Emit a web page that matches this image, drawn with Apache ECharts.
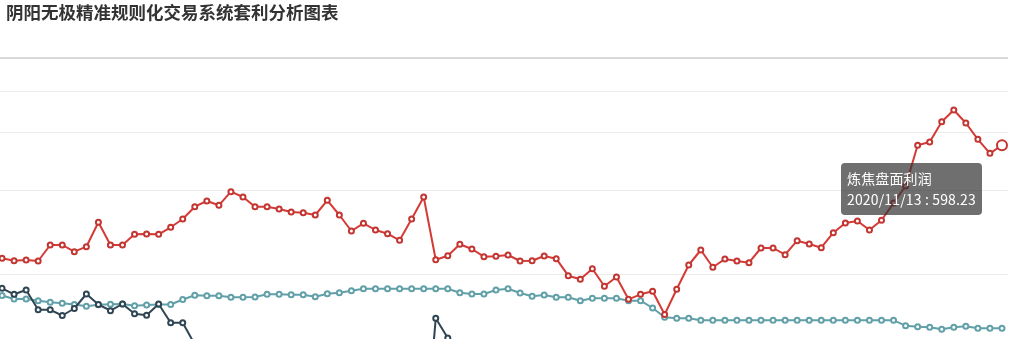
<!DOCTYPE html>
<html>
<head>
<meta charset="utf-8">
<script src="https://cdn.jsdelivr.net/npm/echarts@6/dist/echarts.min.js"></script>
<style>
html,body{margin:0;padding:0;background:#fff;}
#main{width:1024px;height:339px;}
</style>
</head>
<body>
<div id="main"></div>
<script>
const titleText = '阴阳无极精准规则化交易系统套利分析图表';

const dates = [
'2019/04/12','2019/04/19','2019/04/26','2019/05/03','2019/05/10','2019/05/17','2019/05/24','2019/05/31',
'2019/06/07','2019/06/14','2019/06/21','2019/06/28','2019/07/05','2019/07/12','2019/07/19','2019/07/26',
'2019/08/02','2019/08/09','2019/08/16','2019/08/23','2019/08/30','2019/09/06','2019/09/13','2019/09/20',
'2019/09/27','2019/10/04','2019/10/11','2019/10/18','2019/10/25','2019/11/01','2019/11/08','2019/11/15',
'2019/11/22','2019/11/29','2019/12/06','2019/12/13','2019/12/20','2019/12/27','2020/01/03','2020/01/10',
'2020/01/17','2020/01/24','2020/01/31','2020/02/07','2020/02/14','2020/02/21','2020/02/28','2020/03/06',
'2020/03/13','2020/03/20','2020/03/27','2020/04/03','2020/04/10','2020/04/17','2020/04/24','2020/05/01',
'2020/05/08','2020/05/15','2020/05/22','2020/05/29','2020/06/05','2020/06/12','2020/06/19','2020/06/26',
'2020/07/03','2020/07/10','2020/07/17','2020/07/24','2020/07/31','2020/08/07','2020/08/14','2020/08/21',
'2020/08/28','2020/09/04','2020/09/11','2020/09/18','2020/09/25','2020/10/02','2020/10/09','2020/10/16',
'2020/10/23','2020/10/30','2020/11/06','2020/11/13'
];

const seriesNames = ['炼焦盘面利润', '焦炭现货利润', '焦煤盘面价差'];

const cokingProfit = [
259.1, 251.9, 254.0, 251.0, 299.0, 299.0, 278.9, 293.9, 367.1, 299.0,
299.0, 331.1, 332.0, 331.1, 352.1, 377.0, 413.9, 431.0, 418.1, 458.9,
443.0, 413.9, 413.9, 407.0, 398.0, 395.9, 389.0, 433.1, 389.0, 341.0,
364.1, 344.0, 332.9, 313.1, 377.0, 443.0, 254.9, 266.9, 301.1, 287.0,
263.9, 265.1, 269.0, 251.0, 251.9, 266.0, 257.9, 206.9, 196.1, 227.9,
175.1, 203.0, 136.1, 151.1, 160.1, 90.5, 166.4, 239.0, 284.0, 232.1,
257.0, 251.0, 245.9, 290.0, 290.0, 269.9, 311.9, 302.0, 290.9, 335.9,
365.0, 371.0, 344.0, 373.1, 425.0, 476.0, 598.1, 608.0, 668.9, 704.0,
665.0, 616.1, 574.1, 598.23
];

const spotProfit = [
169.1, 151.1, 164.0, 104.6, 104.6, 87.5, 108.5, 152.0, 120.5, 101.9,
122.0, 92.6, 88.4, 122.0, 65.9, 65.9, 0.5, -60, -110, -150,
-180, -200, -230, -210, -240, -260, -250, -280, -300, -290,
-320, -310, -330, -350, -340, -352, 79.0, 20.0, -150, -190,
-220, -240, -260, -250, -270, -290, -280, -300, -320, -310,
-330, -350, -340, -360, -380, -400, -390, -370, -350, -360,
-340, -330, -350, -340, -320, -330, -310, -300, -320, -310,
-300, -290, -310, -300, -280, -260, -240, -230, -220, -240,
-250, -260, -250, -260
];

const coalSpread = [
147.5, 137.0, 137.0, 131.6, 127.1, 124.4, 120.5, 115.1, 119.9, 121.4,
122.3, 116.6, 119.0, 120.5, 120.5, 135.5, 148.1, 146.6, 146.6, 142.1,
142.1, 143.0, 151.1, 151.1, 149.9, 149.9, 143.9, 152.9, 155.9, 161.9,
167.9, 167.9, 167.9, 167.9, 167.9, 167.9, 167.9, 167.9, 155.9, 152.0,
152.0, 164.0, 167.9, 155.0, 145.1, 149.0, 142.1, 142.1, 131.9, 139.1,
139.1, 139.1, 131.9, 131.9, 110.0, 82.4, 79.1, 79.1, 73.1, 73.1,
73.1, 73.1, 73.1, 73.1, 73.1, 73.1, 73.1, 73.1, 73.1, 73.1,
73.1, 73.1, 73.1, 73.1, 73.1, 56.9, 53.9, 52.1, 46.1, 52.1,
55.1, 49.1, 49.1, 49.1
];

const gridLineValues = [760, 636, 464, 212];
const yMin = -100;
const yMax = 860;

const colors = ['#c23531', '#2f4554', '#61a0a8'];

const chart = echarts.init(document.getElementById('main'), null, {renderer: 'canvas'});

function lineSeries(name, data, color, extra) {
  return Object.assign({
    name: name,
    type: 'line',
    data: data,
    symbol: 'emptyCircle',
    symbolSize: 5,
    showSymbol: true,
    lineStyle: {color: color, width: 2},
    itemStyle: {color: color, borderColor: color, borderWidth: 1},
    emphasis: {scale: 2, focus: 'none', lineStyle: {width: 2}},
    animation: false
  }, extra || {});
}

const markLines = gridLineValues.map(v => ({yAxis: v}));
markLines.push({yAxis: yMax, lineStyle: {color: '#cccccc', width: 1.5}});

chart.setOption({
  backgroundColor: '#fff',
  animation: false,
  color: colors,
  title: {
    text: titleText,
    left: 1,
    top: -1,
    textStyle: {
      fontSize: 17.5,
      fontWeight: 'bold',
      color: '#333',
      fontFamily: '"Noto Sans CJK SC", sans-serif'
    }
  },
  tooltip: {
    trigger: 'item',
    formatter: '{a}<br/>{b} : {c}',
    backgroundColor: 'rgba(50,50,50,0.7)',
    borderWidth: 0,
    padding: [5, 6],
    transitionDuration: 0,
    alwaysShowContent: true,
    textStyle: {color: '#fff', fontSize: 14, fontFamily: '"Noto Sans CJK SC", sans-serif'},
    extraCssText: 'box-shadow:none;border-radius:4px;line-height:21px;letter-spacing:0.15px;',
    position: function (point) { return [point[0] - 161, point[1] + 18]; }
  },
  grid: {left: -4, top: 58, width: 1012, height: 320, containLabel: false, outerBoundsMode: 'none'},
  xAxis: {
    type: 'category',
    data: dates,
    boundaryGap: true,
    axisLabel: {show: false},
    axisTick: {show: false},
    axisLine: {show: false}
  },
  yAxis: {
    type: 'value',
    min: yMin,
    max: yMax,
    axisLabel: {show: false},
    axisTick: {show: false},
    axisLine: {show: false},
    splitLine: {show: false}
  },
  series: [
    lineSeries(seriesNames[0], cokingProfit, colors[0], {z: 4}),
    lineSeries(seriesNames[1], spotProfit, colors[1], {z: 3}),
    lineSeries(seriesNames[2], coalSpread, colors[2], {
      z: 2,
      markLine: {
        silent: true,
        symbol: 'none',
        z: 1,
        animation: false,
        label: {show: false},
        lineStyle: {color: '#ebebeb', type: 'solid', width: 1},
        emphasis: {disabled: true},
        data: markLines
      }
    })
  ]
});

chart.dispatchAction({type: 'highlight', seriesIndex: 0, dataIndex: 83});
chart.dispatchAction({type: 'showTip', seriesIndex: 0, dataIndex: 83});
</script>
</body>
</html>
